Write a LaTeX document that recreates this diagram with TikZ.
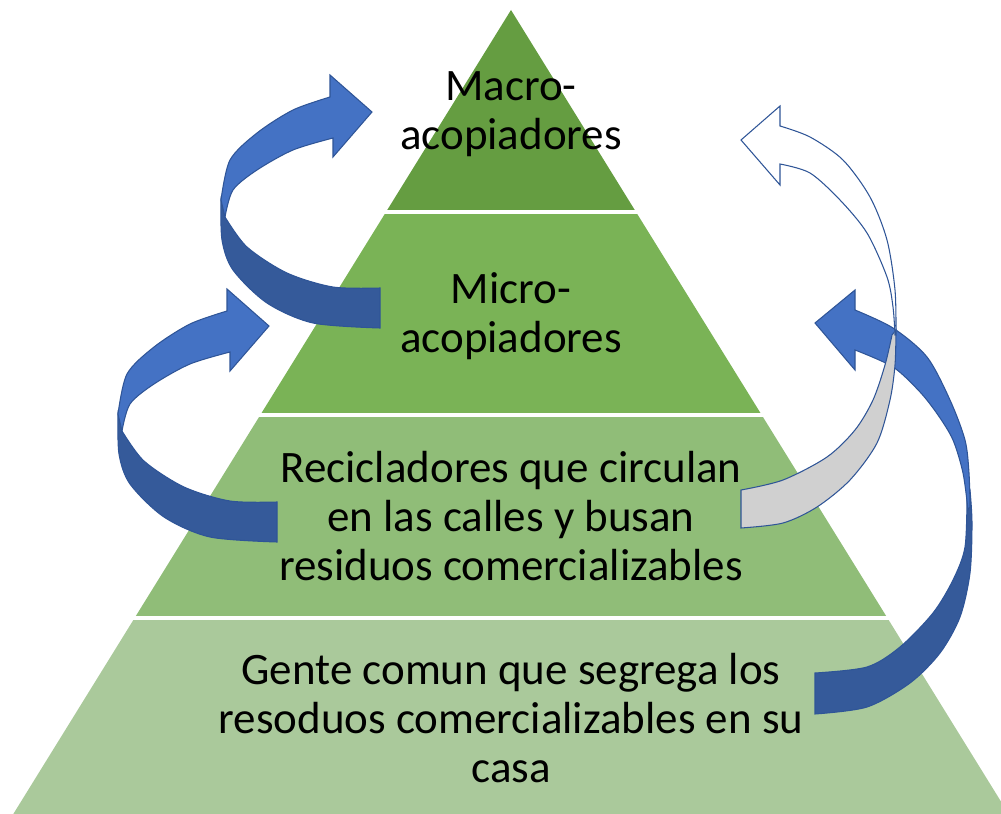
\documentclass[tikz,border=0pt]{standalone}
\usepackage{fontspec}
\setmainfont{Carlito}
\usepackage{xcolor}
\usepackage{tikz}
\usetikzlibrary{positioning,calc}

\definecolor{topgreen}{HTML}{659D41}
\definecolor{midgreen}{HTML}{7AB356}
\definecolor{lowgreen}{HTML}{90BD78}
\definecolor{basegreen}{HTML}{AAC99B}
\definecolor{arrowfront}{HTML}{4472C4}
\definecolor{arrowback}{HTML}{355A9A}
\definecolor{arrowline}{HTML}{2F5597}
\definecolor{arrowgrey}{HTML}{D0D0D0}

\tikzset{
  layertext/.style={align=center, font=\fontsize{25.6}{28}\selectfont, text=black},
  ribbon/.style={draw=arrowline, line width=0.6pt},
}

\begin{document}
\begin{tikzpicture}[x=0.02cm, y=-0.02cm]
    \useasboundingbox (0,0) rectangle (1001,814);
    \clip (0,0) rectangle (1001,814);

    % Pyramid layers
    \fill[topgreen] (511,10) -- (636,212) -- (386,212) -- cycle;
    \fill[midgreen] (386,212) -- (636,212) -- (761.7,415) -- (260.3,415) -- cycle;
    \fill[lowgreen] (260.3,415) -- (761.7,415) -- (887.4,618) -- (134.6,618) -- cycle;
    \fill[basegreen] (134.6,618) -- (887.4,618) -- (1008.7,814) -- (13.3,814) -- cycle;

    % White gaps between layers
    \foreach \y in {212,415,618}
        \draw[white, line width=1.8pt] (0,\y) -- (1001,\y);

    % Layer texts
    \node[layertext] (macro) at (511,114) {Macro-\\acopiadores};
    \node[layertext] (micro) at (511,316) {Micro-\\acopiadores};
    \node[layertext] (recicladores) at (511,516) {Recicladores que circulan\\en las calles y busan\\residuos comercializables};
    \node[layertext] (gente) at (511,718) {Gente comun que segrega los\\resoduos comercializables en su\\casa};

    % Left arrows (same ribbon, second one shifted down)
    \foreach \dx/\dy in {0/0, -103/214} {
        \begin{scope}[shift={(\dx,\dy)}]
            \filldraw[ribbon, fill=arrowback]
                plot[smooth] coordinates {(380,288) (333,287) (287,273) (247,247) (225,217)}
                -- plot[smooth] coordinates {(221,200) (222,240) (233,270) (267,303) (313,323) (380,328)}
                -- cycle;
            \filldraw[ribbon, fill=arrowfront]
                plot[smooth] coordinates {(225,217) (233,190) (257,170) (293,150) (333,138)}
                -- (333,157) -- (372,112) -- (330,75)
                -- plot[smooth] coordinates {(330,97) (293,110) (257,133) (230,160) (221,200)}
                -- cycle;
        \end{scope}
    }

    % Right blue arrow
    \filldraw[ribbon, fill=arrowback]
        plot[smooth] coordinates {(967,495) (965,547) (953,580) (933,613) (900,647) (867,667) (815,673)}
        -- plot[smooth] coordinates {(815,714) (867,707) (910,683) (940,653) (960,617) (970,573) (972,523) (970,490)}
        -- cycle;
    \filldraw[ribbon, fill=arrowfront]
        plot[smooth] coordinates {(968,510) (963,473) (953,440) (938,415) (920,392) (893,367) (855,350)}
        -- (855,370) -- (815,323) -- (855,290)
        -- plot[smooth] coordinates {(855,310) (893,328) (927,357) (950,400) (965,440) (969,473) (970,507)}
        -- cycle;

    % Right white arrow
    \filldraw[ribbon, fill=arrowgrey]
        plot[smooth] coordinates {(741,490) (783,480) (827,457) (855,430) (873,400) (885,365) (892,335)}
        -- plot[smooth] coordinates {(896,330) (895,365) (890,400) (877,443) (850,480) (817,507) (783,523) (741,528)}
        -- cycle;
    \filldraw[ribbon, fill=white]
        plot[smooth] coordinates {(895,335) (893,307) (887,277) (867,233) (840,200) (810,173) (780,164)}
        -- (780,185) -- (741,140) -- (780,106)
        -- plot[smooth] coordinates {(780,126) (810,137) (843,160) (870,197) (887,240) (895,290) (896,335)}
        -- cycle;
\end{tikzpicture}
\end{document}
